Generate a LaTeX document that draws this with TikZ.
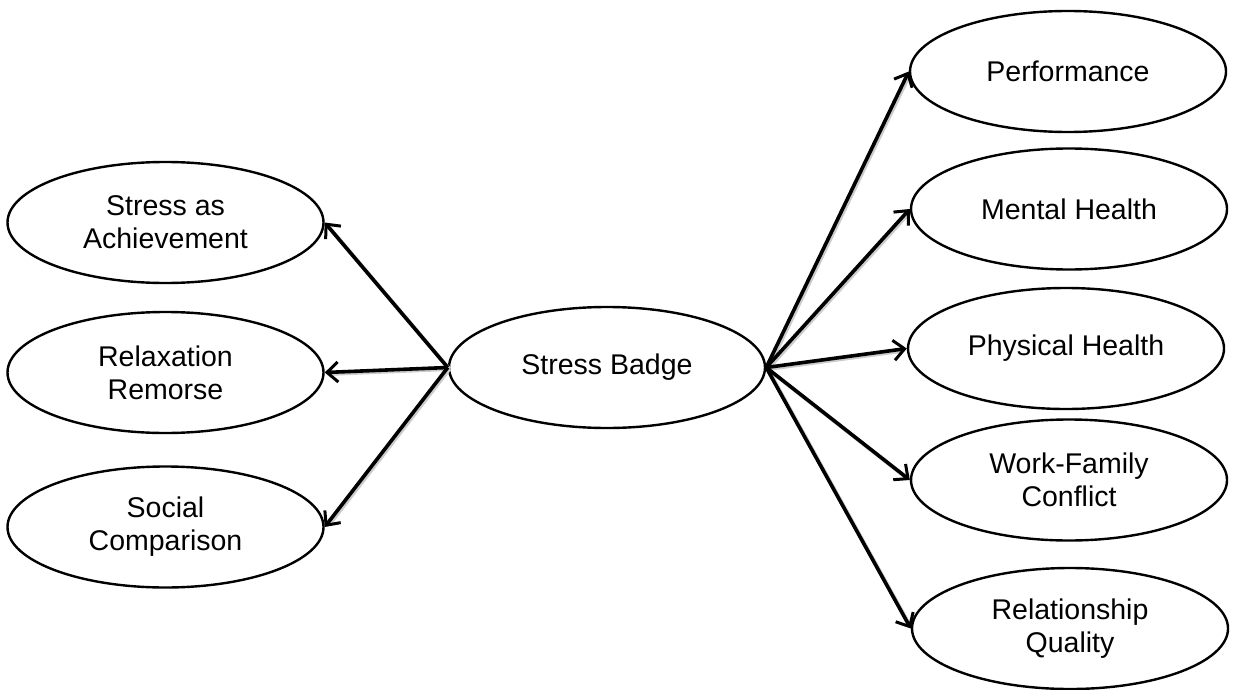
\documentclass[tikz,border=0pt]{standalone}
\usepackage{fontspec}
\setmainfont{Liberation Sans}
\usetikzlibrary{shapes.geometric,arrows.meta}

\tikzset{
  factor/.style={ellipse, draw=black, line width=2.4pt, fill=white,
    minimum width=316pt, minimum height=121pt, inner sep=0pt,
    align=center, font=\fontsize{28.5}{33}\selectfont},
  link/.style={line width=3.6pt, draw=black,
    -{Straight Barb[length=11pt,width=20pt,line width=3pt]}},
  linkshadow/.style={line width=4pt, draw=black!20, shorten >=5pt}
}

\begin{document}
\begin{tikzpicture}[x=1pt,y=-1pt]
  \useasboundingbox (0,0) rectangle (1233,690);

  % antecedents
  \node[factor] (ach) at (165.5,222.5) {Stress as\\Achievement};
  \node[factor] (rel) at (165.5,372.5) {Relaxation\\Remorse};
  \node[factor] (soc) at (165.5,527)   {Social\\Comparison};

  % core construct
  \node[factor] (sb)  at (607,367.5)   {Stress Badge};

  % outcomes
  \node[factor] (perf) at (1068,71.5)  {Performance};
  \node[factor] (ment) at (1069,209)   {Mental Health};
  \node[factor] (phys) at (1066,348.5) {Physical Health};
  \node[factor] (wfc)  at (1069,480)   {Work-Family\\Conflict};
  \node[factor] (rq)   at (1070,628.5) {Relationship\\Quality};

  % soft shadows under the connectors
  \begin{scope}[transform canvas={xshift=1.5pt,yshift=-1.5pt}]
    \foreach \t in {ach,rel,soc}
      \draw[linkshadow] (sb.west) -- (\t.east);
    \foreach \t in {perf,ment,phys,wfc,rq}
      \draw[linkshadow] (sb.east) -- (\t.west);
  \end{scope}

  % connectors
  \foreach \t in {ach,rel,soc}
    \draw[link] (sb.west) -- (\t.east);
  \foreach \t in {perf,ment,phys,wfc,rq}
    \draw[link] (sb.east) -- (\t.west);
\end{tikzpicture}
\end{document}
